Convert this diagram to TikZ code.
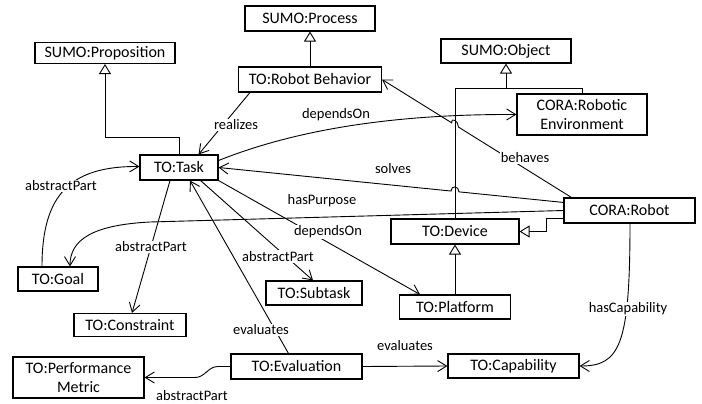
\documentclass[tikz,border=0pt]{standalone}
\usepackage{fontspec}
\setmainfont{Carlito}
\usetikzlibrary{arrows.meta,calc}
\begin{document}
\begin{tikzpicture}[x=1pt,y=-1pt,
  box/.style={draw, line width=1.1pt, inner sep=0pt, align=center, font=\fontsize{16}{19}\selectfont},
  lab/.style={inner sep=1pt, font=\fontsize{14.5}{17}\selectfont},
  wlab/.style={lab, fill=white},
  conn/.style={line width=0.9pt},
  arr/.style={conn, -{Straight Barb[length=9pt,width=11pt]}},
  inh/.style={conn, -{Triangle[open,fill=white,length=10pt,width=12pt]}}]
\useasboundingbox (0,0) rectangle (702,404);

% boxes
\node[box, minimum width=130pt, minimum height=25pt] (proc) at (310,18.5) {SUMO:Process};
\node[box, minimum width=140pt, minimum height=21pt] (prop) at (105,53) {SUMO:Proposition};
\node[box, minimum width=143pt, minimum height=25pt] (rb) at (310,79.5) {TO:Robot Behavior};
\node[box, minimum width=130pt, minimum height=24pt] (obj) at (506,51) {SUMO:Object};
\node[box, minimum width=130pt, minimum height=41pt] (env) at (582,114.5) {CORA:Robotic\\Environment};
\node[box, minimum width=78pt, minimum height=25pt] (task) at (179,167.5) {TO:Task};
\node[box, minimum width=131pt, minimum height=25pt] (robot) at (629.5,210.5) {CORA:Robot};
\node[box, minimum width=128pt, minimum height=25pt] (dev) at (455,231.5) {TO:Device};
\node[box, minimum width=80pt, minimum height=24pt] (goal) at (58,279) {TO:Goal};
\node[box, minimum width=112pt, minimum height=23pt] (con) at (130,325) {TO:Constraint};
\node[box, minimum width=96pt, minimum height=24pt] (sub) at (314,293) {TO:Subtask};
\node[box, minimum width=111pt, minimum height=24pt] (plat) at (455,307) {TO:Platform};
\node[box, minimum width=131pt, minimum height=25pt] (eval) at (296.5,366.5) {TO:Evaluation};
\node[box, minimum width=131pt, minimum height=24pt] (cap) at (513.5,366) {TO:Capability};
\node[box, minimum width=131pt, minimum height=41pt] (pm) at (78.5,377.5) {TO:Performance\\Metric};

% helper coordinates
\coordinate (vt) at (455,0);
\coordinate (vb) at (455,400);
\coordinate (jo) at ($(obj.south)+(0,25)$);
\coordinate (bA) at ($(robot.north west)+(8,0)$);
\coordinate (sA) at ($(robot.north west)+(0,5)$);
\coordinate (hb) at (intersection of bA--rb.east and vt--vb);
\coordinate (hs) at (intersection of sA--task.east and vt--vb);

% inheritance
\draw[inh] (task.north) |- ($(prop.south)+(0,73.5)$) -- (prop.south);
\draw[inh] (rb.north) -- (proc.south);
\draw[conn] (dev.north) |- (jo) -| (env.north);
\draw[inh] (jo) -- (obj.south);
\draw[inh] (plat.north) -- (dev.south);
\draw[inh] ($(robot.south west)+(0,-5)$) -- ++(-17,0) |- (dev.east);

% associations
\draw[arr] ($(rb.south west)+(12,0)$) -- ($(task.north east)+(-20,0)$);
\draw[arr] ($(task.east)+(0,-7)$) .. controls (300,128) and (400,114) .. (env.west);
\draw[arr] (sA) -- ($(hs)!4pt!(sA)$) .. controls +(0,-6) and +(0,-6) .. ($(hs)!4pt!(task.east)$) -- (task.east);
\draw[arr] (bA) -- ($(hb)!4pt!(bA)$) .. controls +(0,-6) and +(0,-6) .. ($(hb)!4pt!(rb.east)$) -- (rb.east);
\draw[arr] (robot.west) -- (150,222) .. controls (92,225) and (70,240) .. ($(goal.north)+(12,0)$);
\draw[arr] ($(goal.north)+(-16,0)$) .. controls (42,195) and (70,166) .. ($(task.west)+(0,-1)$);
\draw[arr] ($(task.south)+(-9,0)$) -- ($(con.north)+(2,0)$) node[wlab, pos=0.5] (l5) {abstractPart};
\draw[arr] ($(task.south east)+(-18,0)$) -- ($(sub.north)+(-1,0)$) node[wlab, pos=0.76, xshift=-8pt] (l6) {abstractPart};
\draw[arr] (task.south east) -- ($(plat.north)+(-35,0)$);
\draw[arr] ($(eval.north)+(-8,0)$) -- ($(task.south)+(11,0)$);
\draw[arr] (eval.east) -- (cap.west);
\draw[arr] ($(robot.south)+(0.5,0)$) .. controls (630,345) and (620,366) .. (cap.east);
\draw[arr] (eval.west) -- (218,366.5) .. controls (208,366.5) and (205,377.5) .. (195,377.5) -- (pm.east);

% labels
\node[wlab] (l1) at (236,125) {realizes};
\node[lab] (l2) at (336,115) {dependsOn};
\node[lab] (l3) at (393,169) {solves};
\node[wlab] (l4) at (525,158) {behaves};
\node[lab] (l7) at (322,201) {hasPurpose};
\node[wlab] (l8) at (61,186) {abstractPart};
\node[wlab] (l9) at (328,232) {dependsOn};
\node[wlab] (l10) at (261,330) {evaluates};
\node[lab] (l11) at (405,346) {evaluates};
\node[wlab] (l12) at (628,309) {hasCapability};
\node[lab] (l13) at (192,396) {abstractPart};
\end{tikzpicture}
\end{document}
